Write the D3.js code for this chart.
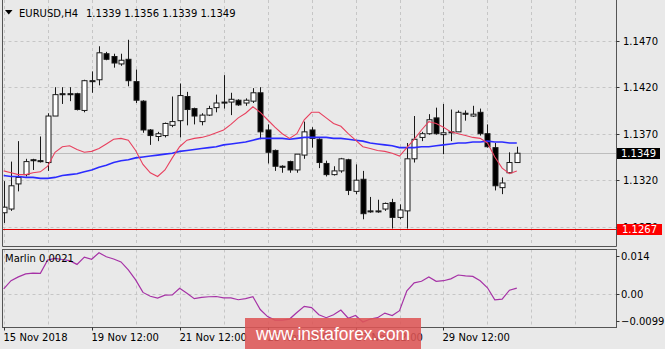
<!DOCTYPE html>
<html>
<head>
<meta charset="utf-8">
<script src="https://cdn.jsdelivr.net/npm/d3@7"></script>
<style>
body { margin: 0; background: #e9e9e9; }
svg { display: block; }
text { font-family: "DejaVu Sans", sans-serif; font-size: 10px; fill: #000; }
</style>
</head>
<body>
<svg width="665" height="349"></svg>
<script>
// EURUSD H4 bars, oldest first
var opens  = [1.1285,1.1289,1.1316,1.1326,1.1342,1.1341,1.1339,1.1389,1.1413,1.1413,1.1413,1.1395,1.1427,1.1428,1.1456,1.1453,1.1445,1.1450,1.1426,1.1405,1.1374,1.1367,1.1368,1.1379,1.1384,1.1410,1.1397,1.1383,1.1390,1.1398,1.1404,1.1404,1.1406,1.1403,1.1405,1.1414,1.1374,1.1352,1.1335,1.1340,1.1331,1.1347,1.1374,1.1364,1.1338,1.1326,1.1330,1.1342,1.1308,1.1321,1.1287,1.1286,1.1289,1.1296,1.1280,1.1287,1.1343,1.1366,1.1370,1.1387,1.1369,1.1372,1.1372,1.1392,1.1389,1.1393,1.1370,1.1355,1.1312,1.1328,1.1339];
var highs  = [1.1319,1.1340,1.1362,1.1343,1.1343,1.1367,1.1392,1.1420,1.1420,1.1420,1.1414,1.1428,1.1437,1.1464,1.1458,1.1456,1.1456,1.1471,1.1439,1.1406,1.1375,1.1372,1.1382,1.1410,1.1424,1.1415,1.1398,1.1392,1.1400,1.1412,1.1433,1.1414,1.1407,1.1408,1.1419,1.1420,1.1380,1.1353,1.1336,1.1341,1.1348,1.1383,1.1377,1.1365,1.1341,1.1335,1.1344,1.1343,1.1337,1.1330,1.1302,1.1299,1.1296,1.1300,1.1294,1.1360,1.1389,1.1372,1.1391,1.1398,1.1402,1.1396,1.1395,1.1395,1.1400,1.1397,1.1380,1.1360,1.1323,1.1350,1.1356];
var lows   = [1.1274,1.1287,1.1308,1.1324,1.1331,1.1339,1.1330,1.1389,1.1402,1.1405,1.1395,1.1393,1.1414,1.1422,1.1449,1.1441,1.1443,1.1421,1.1403,1.1371,1.1358,1.1362,1.1366,1.1377,1.1366,1.1379,1.1380,1.1379,1.1389,1.1393,1.1397,1.1390,1.1400,1.1400,1.1403,1.1364,1.1338,1.1330,1.1328,1.1328,1.1328,1.1343,1.1355,1.1333,1.1324,1.1325,1.1328,1.1304,1.1305,1.1278,1.1285,1.1285,1.1287,1.1268,1.1278,1.1268,1.1339,1.1362,1.1369,1.1369,1.1348,1.1362,1.1372,1.1384,1.1388,1.1368,1.1355,1.1309,1.1305,1.1327,1.1339];
var closes = [1.1291,1.1314,1.1323,1.1340,1.1341,1.1340,1.1389,1.1412,1.1412,1.1412,1.1396,1.1427,1.1426,1.1457,1.1450,1.1446,1.1449,1.1427,1.1406,1.1374,1.1368,1.1370,1.1381,1.1383,1.1411,1.1396,1.1389,1.1390,1.1397,1.1403,1.1403,1.1407,1.1401,1.1406,1.1414,1.1372,1.1350,1.1335,1.1334,1.1331,1.1348,1.1372,1.1365,1.1339,1.1326,1.1330,1.1343,1.1309,1.1320,1.1284,1.1286,1.1287,1.1295,1.1280,1.1288,1.1343,1.1364,1.1370,1.1385,1.1370,1.1371,1.1372,1.1393,1.1391,1.1391,1.1370,1.1356,1.1314,1.1317,1.1339,1.1349];

// moving averages drawn on the price window
var maRed  = [1.1330,1.1328,1.1326,1.1326,1.1328,1.1329,1.1335,1.1350,1.1356,1.1357,1.1353,1.1350,1.1351,1.1354,1.1359,1.1364,1.1365,1.1363,1.1352,1.1337,1.1328,1.1324,1.1331,1.1344,1.1356,1.1363,1.1365,1.1366,1.1368,1.1371,1.1374,1.1380,1.1387,1.1392,1.1399,1.1393,1.1385,1.1377,1.1370,1.1365,1.1370,1.1385,1.1393,1.1393,1.1387,1.1381,1.1378,1.1370,1.1363,1.1356,1.1354,1.1352,1.1351,1.1349,1.1346,1.1355,1.1364,1.1374,1.1383,1.1381,1.1377,1.1372,1.1370,1.1368,1.1366,1.1365,1.1360,1.1345,1.1333,1.1327,1.1330];
var maBlue = [1.1325,1.1324,1.1324,1.1323,1.1323,1.1322,1.1322,1.1323,1.1325,1.1326,1.1327,1.1329,1.1331,1.1334,1.1336,1.1339,1.1341,1.1342,1.1344,1.1345,1.1346,1.1347,1.1348,1.1349,1.1351,1.1352,1.1353,1.1354,1.1355,1.1356,1.1358,1.1359,1.1360,1.1361,1.1363,1.1365,1.1365,1.1365,1.1365,1.1364,1.1365,1.1366,1.1366,1.1366,1.1366,1.1365,1.1365,1.1364,1.1363,1.1362,1.1360,1.1359,1.1358,1.1357,1.1355,1.1355,1.1355,1.1356,1.1356,1.1357,1.1358,1.1359,1.1360,1.1360,1.1361,1.1361,1.1362,1.1361,1.1361,1.1360,1.1360];

// Marlin oscillator
var marlin = [0.0018,0.0048,0.0062,0.0073,0.0076,0.0075,0.0124,0.0130,0.0126,0.0122,0.0108,0.0135,0.0127,0.0151,0.0136,0.0128,0.0117,0.0088,0.0051,0.0005,-0.0009,-0.0016,-0.0005,-0.0004,0.0020,0.0002,-0.0018,-0.0013,-0.0011,-0.0010,-0.0015,-0.0015,-0.0022,-0.0018,-0.0011,-0.0058,-0.0084,-0.0097,-0.0097,-0.0093,-0.0069,-0.0046,-0.0051,-0.0077,-0.0088,-0.0077,-0.0060,-0.0090,-0.0080,-0.0104,-0.0093,-0.0088,-0.0071,-0.0080,-0.0062,0.0011,0.0040,0.0046,0.0062,0.0046,0.0048,0.0055,0.0069,0.0066,0.0064,0.0048,0.0022,-0.0022,-0.0020,0.0013,0.0021];

var dateLabels = ["15 Nov 2018","19 Nov 12:00","21 Nov 12:00","23 Nov 12:00","27 Nov 12:00","29 Nov 12:00"];
var dateIdx = [0,12,24,36,48,60];
var priceTicks = [1.1270,1.1320,1.1370,1.1420,1.1470];
var marlinTicks = [-0.0099,0.00,0.014];
var lastPrice = 1.1349, levelLine = 1.1267;

var svg = d3.select("svg");
var left = 2.5, right = 616.5;
var mainTop = 0, mainBot = 246.5, subTop = 249.5, subBot = 327.5;

var x = d3.scaleLinear().domain([0, 70]).range([3.7, 516.8]);
var y = d3.scaleLinear().domain([1.1270, 1.1470]).range([226.7, 40.7]);
var ym = d3.scaleLinear().domain([-0.0099, 0.014]).range([320.7, 255.7]);
var maxIdx = Math.floor(x.invert(right));

svg.append("defs").append("clipPath").attr("id", "clipMain")
	.append("rect").attr("x", left).attr("y", mainTop).attr("width", right - left).attr("height", mainBot - mainTop);
svg.select("defs").append("clipPath").attr("id", "clipSub")
	.append("rect").attr("x", left).attr("y", subTop).attr("width", right - left).attr("height", subBot - subTop);

// grid
var gridIdx = d3.range(0, maxIdx + 1, 6);
var grid = svg.append("g").attr("stroke", "#c6c6c6").attr("stroke-dasharray", "3,3");
gridIdx.forEach(function(i) {
	var gx = Math.round(x(i)) + 0.5;
	grid.append("line").attr("x1", gx).attr("x2", gx).attr("y1", mainTop).attr("y2", mainBot);
	grid.append("line").attr("x1", gx).attr("x2", gx).attr("y1", subTop).attr("y2", subBot);
});
priceTicks.forEach(function(p) {
	var gy = Math.round(y(p)) + 0.5;
	grid.append("line").attr("x1", left).attr("x2", right).attr("y1", gy).attr("y2", gy);
});
grid.append("line").attr("x1", left).attr("x2", right)
	.attr("y1", Math.round(ym(0)) + 0.5).attr("y2", Math.round(ym(0)) + 0.5);

// last price and level lines
svg.append("line").attr("x1", left).attr("x2", right)
	.attr("y1", Math.round(y(lastPrice)) + 0.5).attr("y2", Math.round(y(lastPrice)) + 0.5)
	.attr("stroke", "#bdbdbd");
svg.append("line").attr("x1", left).attr("x2", right)
	.attr("y1", Math.round(y(levelLine)) + 0.5).attr("y2", Math.round(y(levelLine)) + 0.5)
	.attr("stroke", "#e00000");

var bars = d3.range(opens.length);
var plot = svg.append("g").attr("clip-path", "url(#clipMain)");

// candles
plot.selectAll(".wick").data(bars).enter().append("line")
	.attr("class", "wick")
	.attr("x1", function(i) { return Math.round(x(i)) + 0.5; })
	.attr("x2", function(i) { return Math.round(x(i)) + 0.5; })
	.attr("y1", function(i) { return y(highs[i]); })
	.attr("y2", function(i) { return y(lows[i]); })
	.attr("stroke", "#1a1a1a");

plot.selectAll(".body").data(bars).enter().append("rect")
	.attr("class", "body")
	.attr("x", function(i) { return Math.round(x(i)) - 2; })
	.attr("width", 5)
	.attr("y", function(i) { return y(Math.max(opens[i], closes[i])); })
	.attr("height", function(i) { return Math.max(1, Math.abs(y(opens[i]) - y(closes[i]))); })
	.attr("fill", function(i) { return closes[i] >= opens[i] ? "#ffffff" : "#000000"; })
	.attr("stroke", "#1a1a1a")
	.attr("stroke-width", 1);

// moving averages
var lineMain = d3.line().x(function(d, i) { return x(i); }).y(function(d) { return y(d); });
plot.append("path").datum(maBlue).attr("d", lineMain)
	.attr("fill", "none").attr("stroke", "#2b2bff").attr("stroke-width", 1.6);
plot.append("path").datum(maRed).attr("d", lineMain)
	.attr("fill", "none").attr("stroke", "#e8405e").attr("stroke-width", 1.1);

// marlin
var lineSub = d3.line().x(function(d, i) { return x(i); }).y(function(d) { return ym(d); });
svg.append("g").attr("clip-path", "url(#clipSub)").append("path").datum(marlin).attr("d", lineSub)
	.attr("fill", "none").attr("stroke", "#a632a6").attr("stroke-width", 1.2);

// frames (main window open at the top)
svg.append("path").attr("d", "M" + left + "," + mainTop + "V" + mainBot + "H" + right + "V" + mainTop)
	.attr("fill", "none").attr("stroke", "#555");
svg.append("rect").attr("x", left).attr("y", subTop).attr("width", right - left).attr("height", subBot - subTop)
	.attr("fill", "none").attr("stroke", "#555");

// price axis
priceTicks.forEach(function(p) {
	var ty = Math.round(y(p)) + 0.5;
	svg.append("line").attr("x1", right).attr("x2", right + 3).attr("y1", ty).attr("y2", ty).attr("stroke", "#333");
	svg.append("text").attr("x", 623).attr("y", ty + 3.6).text(d3.format(".4f")(p));
});
svg.append("rect").attr("x", 617).attr("y", Math.round(y(lastPrice)) - 5).attr("width", 43).attr("height", 11).attr("fill", "#000");
svg.append("text").attr("x", 621).attr("y", Math.round(y(lastPrice)) + 4).style("fill", "#fff").text(d3.format(".4f")(lastPrice));
svg.append("rect").attr("x", 617).attr("y", Math.round(y(levelLine)) - 5).attr("width", 45).attr("height", 11).attr("fill", "#ff0000");
svg.append("text").attr("x", 622).attr("y", Math.round(y(levelLine)) + 4).style("fill", "#fff").text(d3.format(".4f")(levelLine));

// marlin axis
marlinTicks.forEach(function(v) {
	var ty = Math.round(ym(v)) + 0.5;
	svg.append("line").attr("x1", right).attr("x2", right + 3).attr("y1", ty).attr("y2", ty).attr("stroke", "#333");
	svg.append("text").attr("x", 621).attr("y", ty + 3.6)
		.text(v === 0 ? "0.00" : (v < 0 ? d3.format(".4f")(v) : d3.format(".3f")(v)));
});

// time axis
dateIdx.forEach(function(i, k) {
	var tx = Math.round(x(i)) + 0.5;
	svg.append("line").attr("x1", tx).attr("x2", tx).attr("y1", subBot).attr("y2", subBot + 3).attr("stroke", "#333");
	svg.append("text").attr("x", tx - 1).attr("y", 341).text(dateLabels[k]);
});

// titles
svg.append("path").attr("d", "M5,10 L12.5,10 L8.75,14.5 Z").attr("fill", "#000");
svg.append("text").attr("x", 19).attr("y", 16.5).text("EURUSD,H4");
svg.append("text").attr("x", 86).attr("y", 16.5)
	.text([opens[70], highs[70], lows[70], closes[70]].map(d3.format(".4f")).join(" "));
svg.append("text").attr("x", 5).attr("y", 262).text("Marlin " + d3.format(".4f")(marlin[marlin.length - 1]));

// watermark
svg.append("rect").attr("x", 245).attr("y", 318).attr("width", 176).attr("height", 31)
	.attr("fill", "#dd5555").attr("opacity", 0.88);
svg.append("text").attr("x", 333).attr("y", 340).attr("text-anchor", "middle")
	.attr("textLength", 154).attr("lengthAdjust", "spacingAndGlyphs")
	.style("font-family", "'Liberation Sans', Arial, sans-serif").style("font-size", "18px").style("fill", "#fff")
	.text("www.instaforex.com");
</script>
</body>
</html>
